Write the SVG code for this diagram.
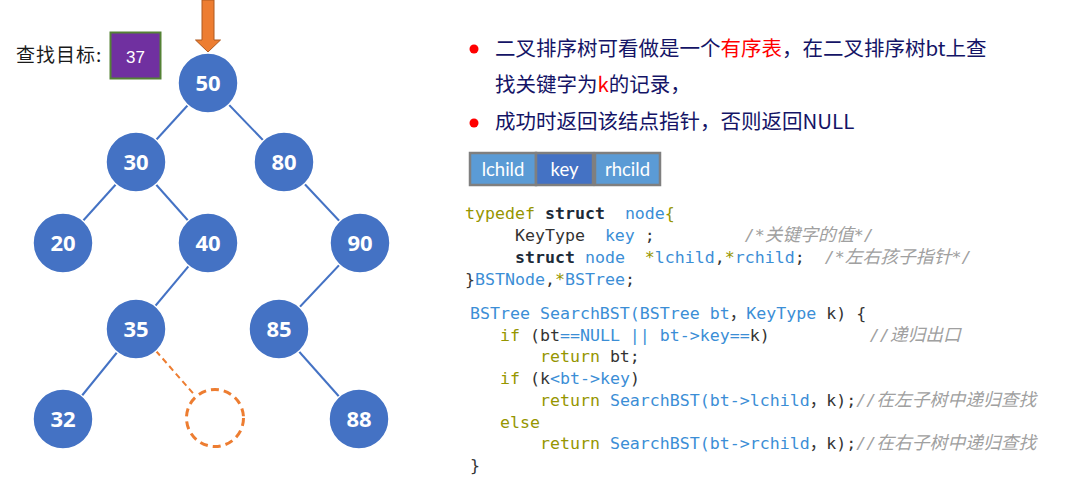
<svg xmlns="http://www.w3.org/2000/svg" width="1065" height="481" viewBox="0 0 1065 481">
<style>
.n circle{fill:#4472C4;stroke:#fff;stroke-width:1.5}
.n text{font-family:"Open Sans","DejaVu Sans",sans-serif;font-weight:700;font-size:22px;fill:#fff;text-anchor:middle}
.e line{stroke:#4472C4;stroke-width:2}
.cn{font-family:"Noto Sans CJK SC",sans-serif}
.t{font-family:"Noto Sans CJK SC",sans-serif;font-size:20.5px;fill:#141466}
.red{fill:#FF0000}
.bx text{font-family:Lato,"Liberation Sans",sans-serif;font-size:18.5px;fill:#fff;text-anchor:middle}
.bx rect{stroke:#7F7F7F;stroke-width:2.5}
.code text{font-family:"DejaVu Sans Mono","Noto Sans CJK SC",monospace;font-size:16.6px;fill:#333333;white-space:pre}
.ol{fill:#969600}
.bl{fill:#3B8ED6}
.kw{fill:#1B2A38;font-weight:700}
.cm{fill:#A0A0A0;font-style:italic}
.cj{font-family:"Noto Sans CJK SC",sans-serif;font-size:17.8px}
.fw{font-family:"Noto Sans CJK SC",sans-serif}
</style>
<g id="arrow">
<path d="M202,0 L214,0 L214,40 L220.5,40 L208,52 L195.5,40 L202,40 Z" fill="#ED7D31" stroke="#AE5A21" stroke-width="1"/>
</g>
<g id="target">
<text class="cn" x="16" y="62" font-size="19" letter-spacing="1" fill="#1a1a1a">查找目标:</text>
<rect x="110.5" y="32.5" width="50" height="46" fill="#7030A0" stroke="#548235" stroke-width="2"/>
<text x="135.5" y="63" font-family="'Liberation Sans',Arial,sans-serif" font-size="17" fill="#fff" text-anchor="middle">37</text>
</g>
<g id="connectors" class="e">
<line x1="208" y1="83" x2="136" y2="162"/>
<line x1="208" y1="83" x2="284" y2="162"/>
<line x1="136" y1="162" x2="63" y2="243"/>
<line x1="136" y1="162" x2="208" y2="243"/>
<line x1="284" y1="162" x2="360" y2="243"/>
<line x1="208" y1="243" x2="136" y2="329"/>
<line x1="360" y1="243" x2="279" y2="329"/>
<line x1="136" y1="329" x2="63" y2="419"/>
<line x1="279" y1="329" x2="359" y2="419"/>
<line x1="156" y1="351" x2="195.5" y2="396" style="stroke:#ED7D31;stroke-width:2;stroke-dasharray:6 4"/>
</g>
<g id="n50" class="n"><circle cx="208" cy="83" r="30"/><text x="208" y="91">50</text></g>
<g id="n30" class="n"><circle cx="136" cy="162" r="30"/><text x="136" y="170">30</text></g>
<g id="n80" class="n"><circle cx="284" cy="162" r="30"/><text x="284" y="170">80</text></g>
<g id="n20" class="n"><circle cx="63" cy="243" r="30"/><text x="63" y="251">20</text></g>
<g id="n40" class="n"><circle cx="208" cy="243" r="30"/><text x="208" y="251">40</text></g>
<g id="n90" class="n"><circle cx="360" cy="243" r="30"/><text x="360" y="251">90</text></g>
<g id="n35" class="n"><circle cx="136" cy="329" r="30"/><text x="136" y="337">35</text></g>
<g id="n85" class="n"><circle cx="279" cy="329" r="30"/><text x="279" y="337">85</text></g>
<g id="n32" class="n"><circle cx="63" cy="419" r="30"/><text x="63" y="427">32</text></g>
<g id="n88" class="n"><circle cx="359" cy="419" r="30"/><text x="359" y="427">88</text></g>
<g id="nEmpty"><circle cx="215" cy="418" r="28.5" fill="none" stroke="#ED7D31" stroke-width="3" stroke-dasharray="8 5"/></g>
<g id="desc">
<circle cx="474" cy="49" r="4.5" fill="#FF0000"/>
<circle cx="474" cy="123" r="4.5" fill="#FF0000"/>
<text class="t" x="495" y="56">二叉排序树可看做是一个<tspan class="red">有序表</tspan>，在二叉排序树bt上查</text>
<text class="t" x="495" y="92">找关键字为<tspan class="red">k</tspan>的记录，</text>
<text class="t" x="495" y="129">成功时返回该结点指针，否则返回NULL</text>
</g>
<g id="fields" class="bx">
<rect x="470" y="153" width="66" height="32" fill="#5B9BD5"/>
<rect x="536" y="153" width="57" height="32" fill="#4472C4"/>
<rect x="595" y="153" width="65" height="32" fill="#5B9BD5"/>
<text x="503" y="176">lchild</text>
<text x="564.5" y="176">key</text>
<text x="627.5" y="176">rhcild</text>
</g>
<g id="struct" class="code">
<text xml:space="preserve" x="465" y="219"><tspan class="ol">typedef</tspan> <tspan class="kw">struct</tspan>  <tspan class="bl">node</tspan><tspan class="ol">{</tspan></text>
<text xml:space="preserve" x="465" y="241">     KeyType  <tspan class="bl">key</tspan> ;         <tspan class="cm">/*<tspan class="cj">关键字的值</tspan>*/</tspan></text>
<text xml:space="preserve" x="465" y="263">     <tspan class="kw">struct</tspan> <tspan class="bl">node</tspan>  <tspan class="ol">*</tspan><tspan class="bl">lchild</tspan>,<tspan class="ol">*</tspan><tspan class="bl">rchild</tspan>;  <tspan class="cm">/*<tspan class="cj">左右孩子指针</tspan>*/</tspan></text>
<text xml:space="preserve" x="465" y="285">}<tspan class="bl">BSTNode</tspan>,<tspan class="ol">*</tspan><tspan class="bl">BSTree</tspan>;</text>
</g>
<g id="search" class="code">
<text xml:space="preserve" x="470" y="319"><tspan class="bl">BSTree SearchBST(BSTree bt</tspan><tspan class="fw">，</tspan><tspan class="bl">KeyType</tspan> k) {</text>
<text xml:space="preserve" x="470" y="341">   <tspan class="ol">if</tspan> (bt<tspan class="bl">==NULL || bt-&gt;key==</tspan>k)          <tspan class="cm">//<tspan class="cj">递归出口</tspan></tspan></text>
<text xml:space="preserve" x="470" y="362">       <tspan class="ol">return</tspan> bt;</text>
<text xml:space="preserve" x="470" y="384">   <tspan class="ol">if</tspan> (k<tspan class="bl">&lt;bt-&gt;key</tspan>)</text>
<text xml:space="preserve" x="470" y="406">       <tspan class="ol">return</tspan> <tspan class="bl">SearchBST(bt-&gt;lchild</tspan><tspan class="fw">，</tspan>k);<tspan class="cm">//<tspan class="cj">在左子树中递归查找</tspan></tspan></text>
<text xml:space="preserve" x="470" y="428">   <tspan class="ol">else</tspan></text>
<text xml:space="preserve" x="470" y="449">       <tspan class="ol">return</tspan> <tspan class="bl">SearchBST(bt-&gt;rchild</tspan><tspan class="fw">，</tspan>k);<tspan class="cm">//<tspan class="cj">在右子树中递归查找</tspan></tspan></text>
<text xml:space="preserve" x="470" y="471">}</text>
</g>
</svg>
